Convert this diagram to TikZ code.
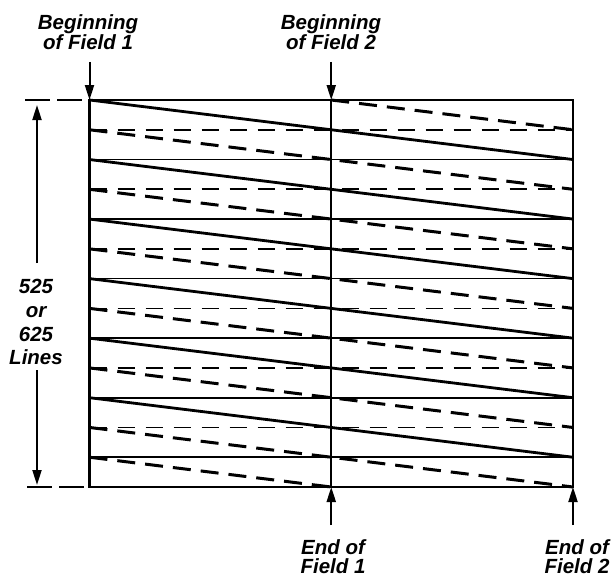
\documentclass[tikz,border=0pt]{standalone}
\usepackage{fontspec}
\setmainfont{Liberation Sans}
\usetikzlibrary{arrows.meta}
\begin{document}
\begin{tikzpicture}[x=1pt,y=-1pt,
  lbl/.style={font=\fontsize{20.5}{22}\selectfont\bfseries\itshape, anchor=base, inner sep=0pt},
  frame/.style={line width=2.5pt},
  midline/.style={line width=2.2pt},
  grid/.style={line width=1.6pt},
  griddash/.style={line width=1.7pt, dash pattern=on 17pt off 11pt},
  scan/.style={line width=2.8pt},
  scandash/.style={line width=3pt, dash pattern=on 18pt off 10pt},
  marker/.style={line width=2pt, -{Triangle[length=15pt,width=9pt]}},
  ext/.style={line width=1.5pt, dash pattern=on 25pt off 7pt}]
\useasboundingbox (0,0) rectangle (613,578);
\def\L{89.5}\def\R{573}\def\M{331.25}\def\T{100}\def\P{59.54}
% horizontal grid lines
\foreach \k in {1,...,6}{
  \draw[grid] (\L,{\T+\k*\P}) -- (\R,{\T+\k*\P});
}
\foreach \k in {0,...,5}{
  \draw[griddash] (\L,{\T+(\k+0.5)*\P}) -- (\R,{\T+(\k+0.5)*\P});
}
% scan lines
\foreach \k in {0,...,5}{
  \draw[scan] (\L,{\T+\k*\P}) -- (\R,{\T+(\k+1)*\P});
  \draw[scandash] (\L,{\T+(\k+0.5)*\P}) -- (\R,{\T+(\k+1.5)*\P});
}
\draw[scandash] (\M,\T) -- (\R,{\T+0.5*\P});
\draw[scandash] (\L,{\T+6*\P}) -- (\M,{\T+6.5*\P});
% frame and middle line
\coordinate (tl) at (\L,100);
\coordinate (tm) at (\M,100);
\coordinate (bl) at (\L,487);
\coordinate (bm) at (\M,487);
\coordinate (br) at (\R,487);
\draw[frame] (tl) rectangle (\R,487);
\draw[midline] (tm) -- (bm);
% marker arrows
\coordinate (b1s) at (\L,62);
\coordinate (b2s) at (\M,62);
\coordinate (e1s) at (\M,525);
\coordinate (e2s) at (\R,525);
\draw[marker] (b1s) -- (tl);
\draw[marker] (b2s) -- (tm);
\draw[marker] (e1s) -- (bm);
\draw[marker] (e2s) -- (br);
% dimension line
\coordinate (xt1) at (25,100);
\coordinate (xt2) at (83,100);
\coordinate (xb1) at (27,487);
\coordinate (xb2) at (84,487);
\draw[ext] (xt1) -- (xt2);
\draw[ext] (xb1) -- (xb2);
\coordinate (dt) at (37,105);
\coordinate (dtu) at (37,263);
\coordinate (db) at (37,485);
\coordinate (dbu) at (37,370);
\draw[marker] (dtu) -- (dt);
\draw[marker] (dbu) -- (db);
% labels
\node[lbl] (b1a) at (88,30) {Beginning};
\node[lbl] (b1b) at (88,50) {of Field 1};
\node[lbl] (b2a) at (331,30) {Beginning};
\node[lbl] (b2b) at (331,50) {of Field 2};
\node[lbl] (n1) at (36,293) {525};
\node[lbl] (n2) at (36,317) {or};
\node[lbl] (n3) at (36,341) {625};
\node[lbl] (n4) at (36,364) {Lines};
\node[lbl] (e1a) at (333,554) {End of};
\node[lbl] (e1b) at (333,573) {Field 1};
\node[lbl] (e2a) at (577,554) {End of};
\node[lbl] (e2b) at (577,573) {Field 2};
\end{tikzpicture}
\end{document}
